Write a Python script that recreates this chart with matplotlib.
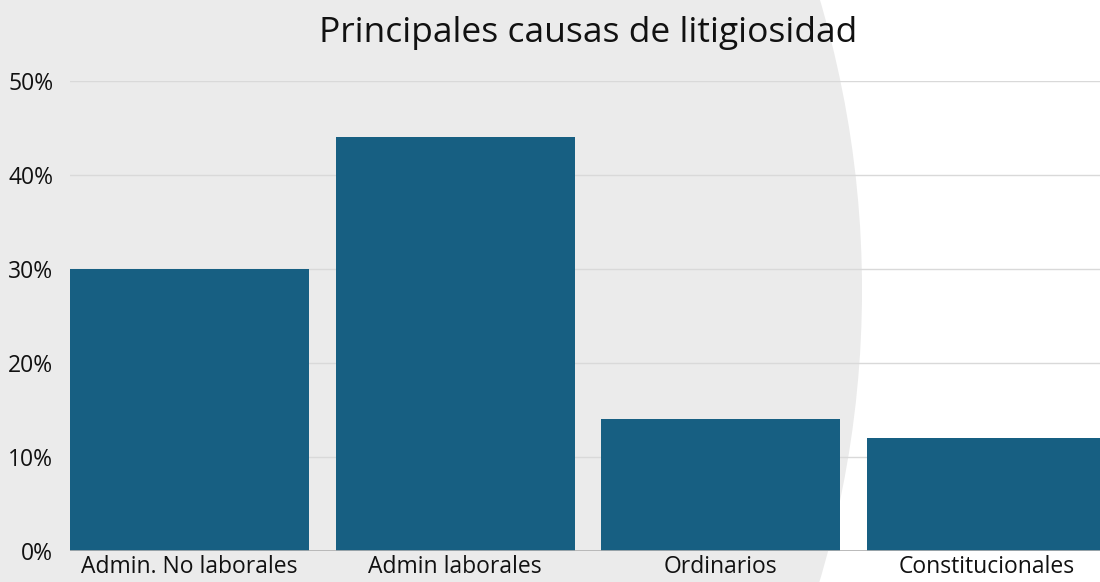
import matplotlib
matplotlib.use("Agg")
import matplotlib.pyplot as plt
from matplotlib.patches import Ellipse
from matplotlib.ticker import PercentFormatter

categories = ["Admin. No laborales", "Admin laborales", "Ordinarios", "Constitucionales"]
values = [0.30, 0.44, 0.14, 0.12]
yticks = [0, 0.1, 0.2, 0.3, 0.4, 0.5]

plt.rcParams['font.family'] = ['Open Sans', 'DejaVu Sans']

W, H = 1100, 582
fig = plt.figure(figsize=(W / 100, H / 100), dpi=100)
fig.patch.set_facecolor("white")

# background layer with the big grey circle
bg_ax = fig.add_axes([0, 0, 1, 1], zorder=-1)
bg_ax.set_xlim(0, W)
bg_ax.set_ylim(H, 0)
bg_ax.axis("off")
bg_ax.add_patch(Ellipse((-160, 290), 2 * 1022, 2 * 1022,
                        facecolor="#ebebeb", edgecolor="none"))

ax = fig.add_axes([70 / W, (H - 551) / H, 1036 / W, 470 / H])
ax.set_facecolor("none")

x = range(len(categories))
ax.bar(x, values, width=0.9, color="#175f82", zorder=3)

ax.set_xlim(-0.45, len(categories) - 0.55)
ax.set_ylim(0, 0.5)
ax.set_yticks(yticks)
ax.yaxis.set_major_formatter(PercentFormatter(1.0, decimals=0))
ax.set_xticks(list(x))
ax.set_xticklabels(categories)

ax.grid(axis="y", color="#d9d9d9", linewidth=1, zorder=1)
ax.axhline(0, color="#b0b0b0", linewidth=1.2, zorder=4)
for s in ax.spines.values():
    s.set_visible(False)
ax.tick_params(axis="both", length=0, labelsize=16.5, colors="#111111")
ax.tick_params(axis="y", pad=12)
ax.tick_params(axis="x", pad=3)

ax.set_title("Principales causas de litigiosidad", fontsize=25.5, pad=28, color="#111111")

fig.savefig("out.png", dpi=100)
